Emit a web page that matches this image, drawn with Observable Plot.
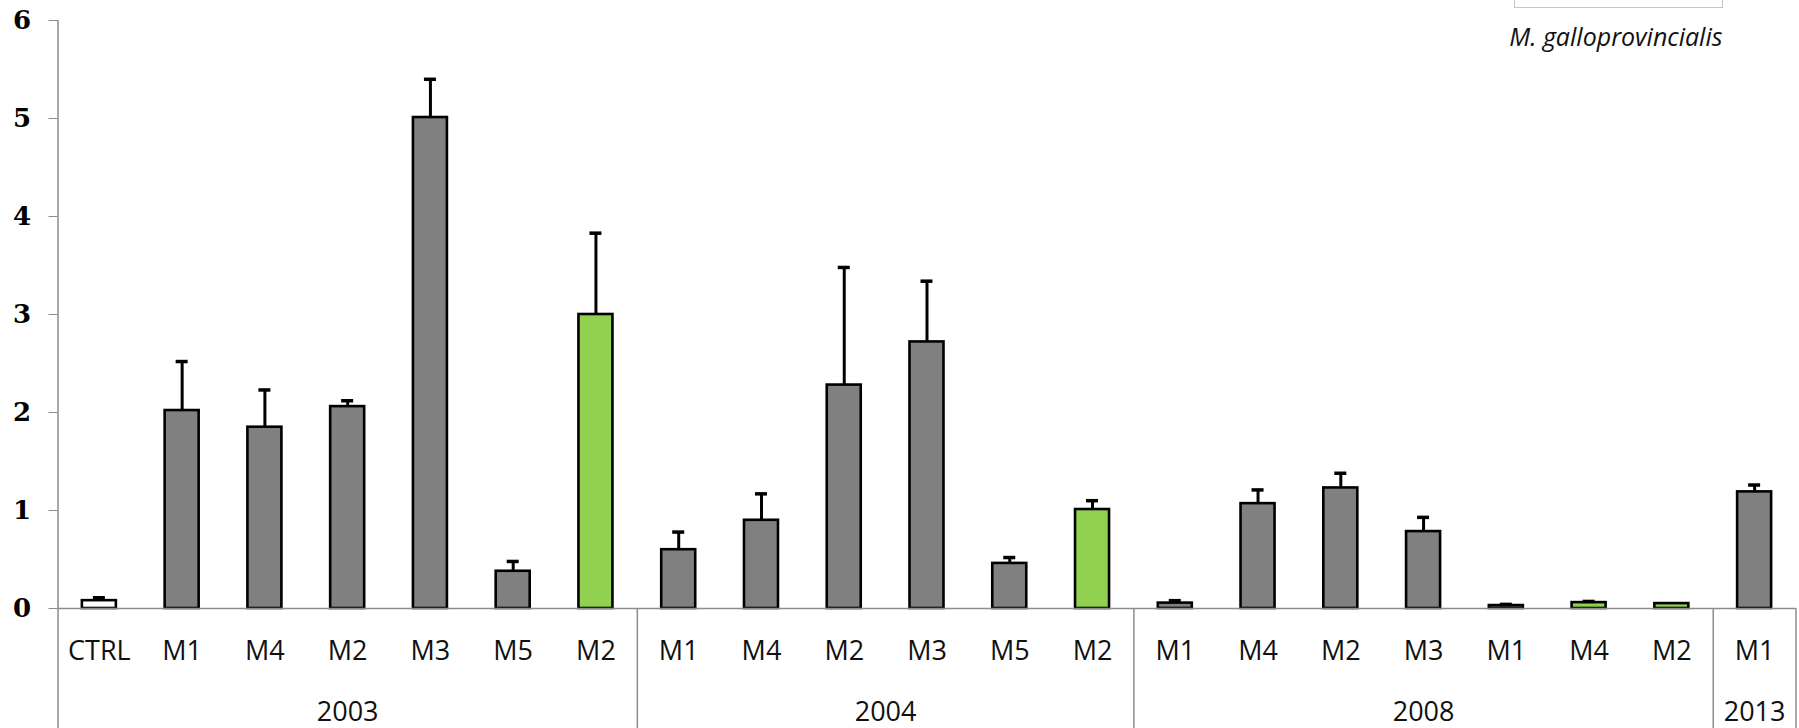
<!DOCTYPE html>
<html>
<head>
<meta charset="utf-8">
<script src="https://cdn.jsdelivr.net/npm/d3@7"></script>
<script src="https://cdn.jsdelivr.net/npm/@observablehq/plot@0.6"></script>
<style>
  html, body { margin: 0; padding: 0; background: #fff; }
  #wrap { position: relative; width: 1799px; height: 728px; overflow: hidden; }
  #legendbox { position: absolute; left: 1514px; top: -12px; width: 207px; height: 18px;
               border: 1px solid #c4c4c4; background: #fff; }
</style>
</head>
<body>
<div id="wrap"></div>
<script>
// ---- data ----
const categories = ["CTRL","M1","M4","M2","M3","M5","M2",
                    "M1","M4","M2","M3","M5","M2",
                    "M1","M4","M2","M3","M1","M4","M2",
                    "M1"];
const years = ["2003","2003","2003","2003","2003","2003","2003",
               "2004","2004","2004","2004","2004","2004",
               "2008","2008","2008","2008","2008","2008","2008",
               "2013"];
const values = [0.08, 2.02, 1.85, 2.06, 5.01, 0.38, 3.00,
                0.60, 0.90, 2.28, 2.72, 0.46, 1.01,
                0.055, 1.07, 1.23, 0.785, 0.03, 0.06, 0.05,
                1.19];
const errors = [0.03, 0.50, 0.38, 0.06, 0.39, 0.10, 0.83,
                0.18, 0.27, 1.20, 0.62, 0.06, 0.09,
                0.025, 0.14, 0.15, 0.145, 0.012, 0.012, 0,
                0.07];
const kinds = ["control","sample","sample","sample","sample","sample","highlight",
               "sample","sample","sample","sample","sample","highlight",
               "sample","sample","sample","sample","sample","highlight","highlight",
               "sample"];
const yTicks = [0, 1, 2, 3, 4, 5, 6];
const yTickLabels = ["0", "1", "2", "3", "4", "5", "6"];
const title = "M. galloprovincialis";

// ---- layout / style ----
const W = 1799, H = 728, mL = 57.5, mR = 3.5, mT = 20, mB = 120;
const n = categories.length;
const step = (W - mL - mR) / n;
const barInset = (step - 34) / 2;
const capInset = (step - 12) / 2;
const fillOf = {control: "#ffffff", sample: "#808080", highlight: "#92d050"};
const axisGrey = "#8c8c8c";
const sansFont = "'Open Sans', 'Noto Sans', sans-serif";

const data = categories.map((c, i) => ({
  id: i, label: c, year: years[i], value: values[i], err: errors[i], kind: kinds[i]
}));
const withErr = data.filter(d => d.err > 0);

// year groups
const groups = [];
years.forEach((y, i) => {
  const g = groups[groups.length - 1];
  if (g && g.year === y) g.count++;
  else groups.push({year: y, start: i, count: 1});
});

const yearMarks = groups.map(g => Plot.text([g], {
  x: d => d.start + Math.floor(d.count / 2),
  text: "year",
  frameAnchor: "bottom",
  lineAnchor: "bottom",
  dx: g.count % 2 === 0 ? -step / 2 : 0,
  dy: 112.5,
  fontSize: 27,
  fontFamily: sansFont,
  fill: "#111"
}));

// boundaries (left edge of each group + right edge of last)
const bounds = groups.map(g => ({id: g.start, side: -1}))
  .concat([{id: n - 1, side: 1}]);
const boundMarks = [-1, 1].map(side => Plot.ruleX(bounds.filter(b => b.side === side), {
  x: "id",
  dx: side * step / 2,
  insetTop: H - mT - mB,
  insetBottom: -mB,
  stroke: axisGrey,
  strokeWidth: 1.5
}));

const chart = Plot.plot({
  width: W,
  height: H,
  marginLeft: mL,
  marginRight: mR,
  marginTop: mT,
  marginBottom: mB,
  style: {background: "transparent", color: "black", overflow: "visible"},
  x: {type: "band", domain: d3.range(n), padding: 0, round: false, label: null, axis: null},
  y: {domain: [0, 6], label: null, axis: null},
  color: {type: "identity"},
  marks: [
    // y axis line
    Plot.ruleX([0], {x: 0, dx: -step / 2, stroke: axisGrey, strokeWidth: 1.5}),
    ...boundMarks,
    Plot.axisY({
      ticks: yTicks, tickSize: 9, tickPadding: 18, stroke: axisGrey, color: "black",
      tickFormat: v => yTickLabels[yTicks.indexOf(v)],
      fontSize: 26, fontFamily: "'DejaVu Serif', serif", fontWeight: "bold", label: null
    }),
    Plot.axisX({
      tickSize: 0, tickPadding: 32, tickFormat: i => categories[i], label: null,
      fontSize: 27, fontFamily: sansFont, color: "#111"
    }),
    Plot.barY(data, {
      x: "id", y: "value", fill: d => fillOf[d.kind],
      stroke: "black", strokeWidth: 2.6, insetLeft: barInset, insetRight: barInset
    }),
    Plot.ruleY([0], {stroke: axisGrey, strokeWidth: 1.5}),
    Plot.ruleX(withErr, {
      x: "id", y1: "value", y2: d => d.value + d.err, stroke: "black", strokeWidth: 3
    }),
    Plot.tickY(withErr, {
      x: "id", y: d => d.value + d.err, stroke: "black", strokeWidth: 3.5,
      insetLeft: capInset, insetRight: capInset
    }),
    ...yearMarks,
    Plot.text([title], {
      text: d => d, frameAnchor: "top-right", textAnchor: "end", lineAnchor: "bottom",
      dx: -73.5, dy: 25, fontSize: 25, fontStyle: "italic", fontFamily: sansFont, fill: "#111"
    })
  ]
});

const wrap = document.getElementById("wrap");
wrap.appendChild(chart);
const box = document.createElement("div");
box.id = "legendbox";
wrap.appendChild(box);
</script>
</body>
</html>
